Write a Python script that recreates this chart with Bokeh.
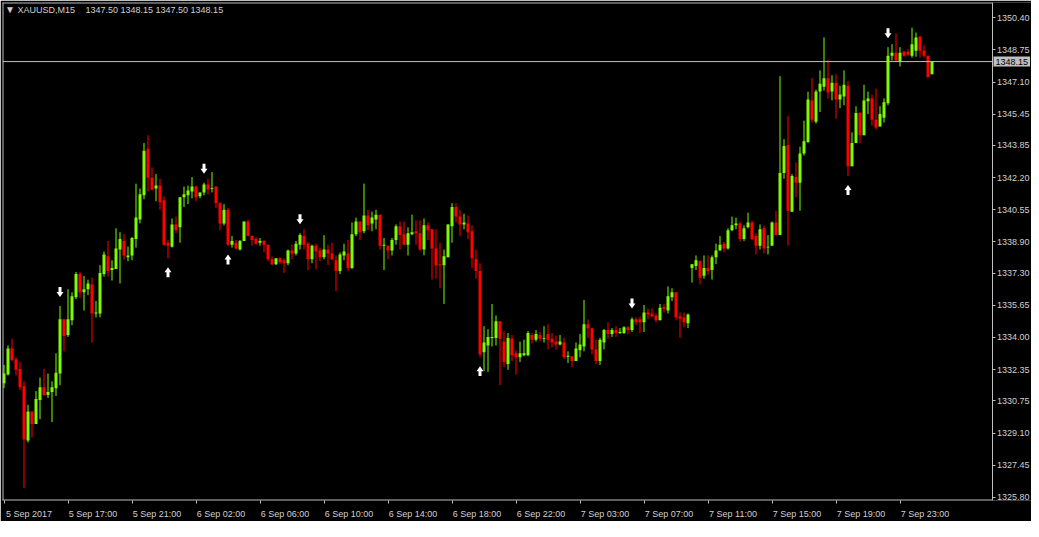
from bokeh.plotting import figure
from bokeh.models import Range1d, FixedTicker, PrintfTickFormatter, Span, Label, ColumnDataSource
from bokeh.embed import file_html
from bokeh.resources import INLINE

symbol = "XAUUSD,M15"

open_ = [
1331.65, 1332.10, 1333.44, 1332.89, 1332.39, 1331.50, 1328.72, 1330.21, 1329.56, 1330.80,
1331.45, 1331.05, 1331.20, 1331.40, 1332.15, 1334.93, 1334.13, 1334.88, 1336.07, 1337.26,
1336.32, 1336.47, 1336.72, 1335.23, 1335.23, 1337.26, 1338.16, 1337.46, 1337.51, 1338.51,
1338.95, 1338.11, 1338.21, 1339.05, 1340.05, 1341.29, 1343.68, 1342.19, 1341.64, 1341.79,
1341.04, 1338.86, 1338.66, 1339.80, 1339.65, 1341.19, 1341.29, 1341.49, 1341.74, 1341.24,
1341.44, 1341.84, 1341.61, 1341.74, 1340.89, 1339.85, 1340.55, 1338.76, 1338.86, 1338.51,
1338.95, 1339.95, 1339.20, 1339.05, 1338.86, 1338.95, 1338.76, 1338.01, 1337.76, 1338.06,
1337.96, 1337.81, 1338.46, 1338.31, 1338.76, 1339.20, 1338.81, 1338.01, 1338.71, 1338.46,
1338.11, 1338.51, 1338.31, 1337.96, 1337.41, 1338.21, 1338.31, 1337.56, 1339.30, 1339.95,
1339.45, 1340.25, 1339.85, 1340.05, 1340.30, 1338.71, 1338.71, 1338.46, 1339.00, 1339.70,
1339.30, 1338.76, 1339.30, 1339.45, 1339.35, 1338.51, 1339.75, 1339.55, 1338.56, 1337.76,
1337.71, 1338.11, 1339.70, 1340.69, 1340.20, 1339.80, 1339.85, 1339.45, 1338.01, 1337.41,
1333.24, 1333.59, 1333.98, 1333.98, 1334.83, 1333.79, 1332.64, 1333.93, 1333.19, 1332.99,
1333.09, 1333.09, 1334.13, 1333.89, 1334.13, 1333.93, 1334.18, 1333.93, 1333.79, 1333.64,
1333.74, 1333.01, 1333.04, 1332.79, 1333.34, 1333.54, 1334.68, 1334.48, 1333.39, 1332.79,
1333.74, 1334.38, 1334.18, 1334.38, 1334.23, 1334.23, 1334.53, 1334.38, 1334.93, 1334.93,
1334.78, 1335.28, 1335.23, 1335.13, 1334.88, 1335.57, 1335.38, 1336.07, 1336.32, 1335.08,
1335.03, 1334.73, 1337.56, 1337.66, 1337.91, 1337.16, 1337.56, 1337.46, 1338.11, 1338.46,
1338.81, 1338.56, 1339.50, 1339.75, 1339.85, 1339.05, 1339.65, 1339.90, 1339.20, 1338.71,
1339.60, 1338.61, 1338.71, 1339.90, 1339.25, 1342.43, 1343.87, 1340.45, 1342.23, 1341.94,
1343.43, 1344.02, 1346.16, 1345.07, 1346.61, 1346.86, 1347.30, 1346.61, 1347.06, 1346.21,
1346.36, 1346.91, 1342.78, 1343.97, 1345.51, 1344.37, 1346.11, 1346.26, 1345.17, 1344.82,
1345.27, 1346.01, 1348.45, 1348.60, 1348.15, 1348.65, 1348.65, 1348.45, 1348.70, 1349.44,
1348.70, 1348.45, 1347.50,
]

high = [
1332.59, 1333.59, 1333.93, 1332.99, 1332.74, 1331.75, 1330.55, 1330.21, 1331.25, 1331.95,
1332.39, 1332.15, 1331.75, 1333.19, 1335.62, 1334.93, 1336.47, 1336.32, 1337.36, 1337.36,
1337.16, 1336.97, 1337.07, 1335.87, 1337.71, 1338.41, 1338.95, 1337.96, 1339.60, 1339.40,
1339.30, 1338.66, 1339.15, 1341.89, 1341.64, 1343.97, 1344.37, 1342.73, 1342.38, 1342.14,
1341.24, 1339.00, 1340.10, 1340.20, 1341.19, 1341.74, 1341.79, 1342.23, 1341.79, 1341.44,
1341.94, 1342.14, 1342.48, 1341.74, 1340.94, 1340.84, 1340.64, 1339.20, 1339.00, 1339.00,
1339.95, 1340.05, 1339.25, 1339.15, 1339.10, 1339.00, 1338.76, 1338.16, 1338.06, 1338.11,
1338.06, 1338.51, 1338.76, 1338.95, 1339.35, 1339.55, 1338.91, 1338.76, 1338.81, 1338.61,
1339.25, 1338.76, 1338.86, 1338.21, 1338.36, 1338.81, 1339.00, 1339.90, 1340.15, 1339.95,
1341.89, 1340.55, 1340.45, 1340.55, 1340.30, 1339.10, 1338.71, 1339.10, 1339.80, 1339.95,
1339.95, 1339.65, 1340.30, 1340.00, 1340.00, 1340.10, 1339.90, 1339.55, 1339.55, 1338.86,
1338.51, 1339.80, 1340.89, 1340.89, 1340.55, 1340.35, 1340.25, 1339.75, 1338.51, 1337.81,
1334.58, 1334.43, 1335.72, 1335.13, 1334.83, 1334.33, 1334.23, 1334.13, 1333.34, 1333.79,
1333.89, 1334.33, 1334.23, 1334.38, 1334.28, 1334.58, 1334.68, 1334.23, 1334.08, 1334.13,
1333.98, 1333.29, 1333.04, 1333.74, 1334.18, 1335.92, 1334.93, 1334.48, 1333.89, 1333.98,
1334.43, 1334.78, 1334.48, 1334.58, 1334.48, 1334.58, 1334.58, 1335.03, 1335.03, 1335.08,
1335.67, 1335.48, 1335.48, 1335.23, 1335.72, 1335.72, 1336.62, 1336.52, 1336.32, 1335.28,
1335.28, 1335.23, 1337.76, 1338.21, 1337.96, 1338.21, 1338.21, 1338.21, 1338.81, 1339.20,
1338.91, 1339.60, 1340.20, 1340.15, 1339.95, 1339.75, 1340.40, 1340.00, 1339.35, 1339.80,
1339.75, 1339.25, 1339.95, 1340.50, 1347.40, 1344.17, 1345.37, 1342.38, 1342.98, 1343.78,
1345.12, 1346.61, 1347.30, 1346.71, 1347.70, 1349.39, 1348.25, 1347.45, 1347.50, 1346.91,
1347.70, 1347.16, 1344.52, 1345.86, 1345.56, 1346.96, 1346.61, 1346.46, 1346.76, 1345.86,
1346.26, 1348.89, 1349.04, 1349.59, 1348.89, 1348.70, 1348.80, 1349.89, 1349.64, 1349.44,
1348.99, 1348.45, 1348.15,
]

low = [
1331.40, 1332.05, 1332.79, 1332.05, 1331.30, 1326.28, 1328.62, 1328.87, 1329.56, 1329.81,
1331.00, 1330.90, 1329.66, 1331.00, 1331.55, 1333.29, 1334.03, 1334.63, 1335.97, 1336.02,
1335.38, 1336.17, 1333.74, 1335.03, 1335.03, 1337.12, 1337.12, 1336.92, 1337.51, 1336.77,
1338.01, 1337.91, 1337.96, 1338.61, 1339.85, 1341.09, 1341.49, 1341.54, 1340.99, 1340.55,
1338.71, 1338.06, 1338.61, 1339.35, 1338.86, 1340.69, 1340.84, 1341.14, 1340.99, 1341.14,
1341.29, 1341.34, 1341.44, 1340.64, 1339.50, 1339.75, 1338.71, 1338.61, 1338.51, 1338.46,
1338.95, 1339.20, 1338.71, 1338.76, 1338.71, 1338.36, 1337.91, 1337.71, 1337.71, 1337.76,
1337.31, 1337.71, 1338.01, 1338.21, 1338.51, 1338.51, 1337.46, 1337.81, 1337.51, 1337.91,
1338.01, 1337.71, 1337.96, 1336.37, 1337.26, 1337.96, 1337.41, 1337.51, 1339.20, 1339.00,
1339.35, 1339.50, 1339.45, 1339.55, 1338.51, 1337.46, 1338.01, 1338.21, 1338.76, 1338.51,
1338.76, 1338.21, 1339.25, 1338.76, 1338.46, 1338.21, 1339.00, 1336.97, 1337.02, 1336.52,
1335.72, 1338.11, 1338.86, 1339.90, 1339.20, 1339.55, 1339.05, 1337.56, 1337.02, 1332.99,
1332.29, 1332.24, 1333.54, 1333.59, 1331.55, 1332.49, 1332.34, 1332.79, 1332.10, 1332.74,
1333.04, 1333.04, 1333.69, 1333.79, 1333.79, 1333.74, 1333.39, 1333.49, 1333.39, 1333.59,
1332.89, 1332.69, 1332.49, 1332.79, 1332.99, 1333.29, 1333.98, 1333.14, 1332.64, 1332.59,
1333.39, 1333.93, 1334.03, 1334.03, 1334.18, 1334.18, 1334.18, 1334.28, 1334.63, 1334.23,
1334.28, 1334.93, 1335.08, 1334.78, 1334.88, 1335.28, 1335.23, 1335.87, 1334.88, 1333.98,
1334.53, 1334.48, 1336.82, 1337.46, 1336.72, 1337.02, 1337.21, 1336.97, 1337.76, 1338.46,
1338.36, 1338.51, 1339.45, 1339.55, 1338.91, 1338.95, 1339.60, 1339.00, 1338.26, 1338.51,
1338.31, 1338.26, 1338.71, 1339.25, 1339.25, 1342.14, 1338.71, 1340.45, 1341.19, 1340.50,
1343.33, 1343.97, 1345.02, 1344.97, 1345.56, 1346.66, 1346.26, 1346.16, 1345.22, 1345.76,
1345.91, 1342.28, 1342.78, 1343.97, 1343.97, 1344.37, 1345.46, 1344.87, 1344.67, 1344.82,
1345.02, 1345.91, 1348.20, 1348.15, 1347.90, 1348.40, 1348.45, 1348.35, 1348.40, 1348.35,
1348.35, 1347.35, 1347.50,
]

close = [
1332.15, 1333.44, 1332.84, 1332.34, 1331.45, 1328.77, 1330.21, 1329.56, 1330.85, 1331.45,
1331.05, 1331.20, 1331.45, 1332.19, 1334.93, 1334.08, 1334.93, 1336.12, 1337.26, 1336.32,
1336.47, 1336.77, 1335.23, 1335.28, 1337.31, 1338.26, 1337.41, 1337.56, 1338.56, 1339.05,
1338.21, 1338.21, 1339.10, 1340.15, 1341.34, 1343.58, 1342.19, 1341.59, 1341.79, 1340.94,
1338.76, 1338.71, 1339.80, 1339.50, 1341.19, 1341.34, 1341.54, 1341.74, 1341.19, 1341.44,
1341.84, 1341.59, 1341.66, 1340.89, 1339.85, 1340.55, 1338.76, 1338.95, 1338.56, 1338.95,
1339.95, 1339.20, 1339.00, 1338.81, 1338.95, 1338.76, 1338.01, 1337.76, 1338.06, 1337.86,
1337.81, 1338.46, 1338.31, 1338.81, 1339.25, 1338.76, 1338.01, 1338.71, 1338.41, 1338.11,
1338.51, 1338.31, 1338.01, 1337.41, 1338.26, 1338.41, 1337.56, 1339.30, 1339.95, 1339.40,
1340.25, 1339.75, 1340.15, 1340.30, 1338.71, 1338.76, 1338.46, 1339.00, 1339.70, 1339.25,
1338.76, 1339.35, 1339.40, 1339.35, 1338.51, 1339.75, 1339.50, 1338.56, 1337.71, 1337.71,
1338.16, 1339.80, 1340.69, 1340.20, 1339.80, 1339.90, 1339.40, 1338.06, 1337.41, 1333.14,
1333.74, 1334.03, 1334.03, 1334.83, 1333.93, 1332.74, 1333.98, 1333.09, 1332.99, 1333.19,
1333.19, 1334.23, 1333.89, 1334.18, 1333.93, 1333.98, 1333.89, 1333.74, 1333.64, 1333.79,
1332.99, 1333.06, 1332.79, 1333.44, 1333.64, 1334.68, 1334.48, 1333.39, 1332.79, 1333.89,
1334.38, 1334.18, 1334.38, 1334.23, 1334.28, 1334.53, 1334.38, 1334.93, 1334.78, 1334.78,
1335.28, 1335.18, 1335.08, 1334.88, 1335.52, 1335.48, 1336.12, 1336.32, 1335.03, 1334.98,
1334.78, 1335.18, 1337.76, 1337.96, 1337.07, 1337.56, 1337.41, 1338.11, 1338.46, 1338.76,
1338.56, 1339.50, 1339.75, 1339.85, 1339.05, 1339.60, 1339.90, 1339.05, 1338.71, 1339.55,
1338.56, 1338.66, 1339.90, 1339.25, 1342.43, 1343.82, 1340.50, 1342.28, 1341.94, 1343.43,
1344.07, 1346.21, 1345.17, 1346.61, 1347.01, 1347.30, 1346.56, 1347.06, 1346.21, 1346.46,
1346.96, 1342.78, 1343.97, 1345.51, 1344.37, 1346.16, 1346.26, 1345.17, 1344.77, 1345.46,
1346.06, 1348.45, 1348.60, 1348.20, 1348.60, 1348.45, 1348.50, 1349.04, 1349.39, 1348.70,
1348.45, 1347.35, 1348.15,
]

time_label_bars = [0, 16, 32, 48, 64, 80, 96, 112, 128, 144, 160, 176, 192, 208, 224]
time_labels = ["5 Sep 2017", "5 Sep 17:00", "5 Sep 21:00", "6 Sep 02:00", "6 Sep 06:00",
               "6 Sep 10:00", "6 Sep 14:00", "6 Sep 18:00", "6 Sep 22:00", "7 Sep 03:00",
               "7 Sep 07:00", "7 Sep 11:00", "7 Sep 15:00", "7 Sep 19:00", "7 Sep 23:00"]
price_ticks = [1325.80, 1327.45, 1329.10, 1330.75, 1332.35, 1334.00, 1335.65, 1337.30,
               1338.90, 1340.55, 1342.20, 1343.85, 1345.45, 1347.10, 1348.75, 1350.40]
up_arrow_bars = [41, 56, 119, 211]
down_arrow_bars = [14, 50, 74, 157, 221]

# ---- styling / layout ----
BULL = "#7CFC00"
BEAR = "#FF0000"
GRAY = "#C0C0C0"
TXT = "#D0D0D0"
FONT = "Liberation Sans"
FS = "9px"

W, H = 1031, 521
LEFT, TOP, BOTTOM = 2, 2, 19
FW, FH = W - LEFT, H - TOP - BOTTOM
BAR_PX = 4
AXIS_PX = 989.5                # price-scale line, pixels from frame left
x_start = -0.375
x_end = x_start + FW / BAR_PX
axis_x = x_start + AXIS_PX / BAR_PX
y_start, y_end = 1325.64, 1351.18
ppd = FH / (y_end - y_start)  # pixels per dollar
ppb = BAR_PX                   # pixels per bar

n = len(close)
idx = list(range(n))
colors = [BULL if c >= o else BEAR for o, c in zip(open_, close)]
src = ColumnDataSource(dict(
    x=idx, top=[max(o, c) for o, c in zip(open_, close)],
    bottom=[min(o, c) for o, c in zip(open_, close)],
    high=high, low=low, color=colors))

p = figure(width=W, height=H, output_backend="svg", toolbar_location=None,
           y_axis_location="right", x_range=Range1d(x_start, x_end),
           y_range=Range1d(y_start, y_end),
           min_border_left=LEFT, min_border_top=TOP, min_border_right=0,
           min_border_bottom=BOTTOM, background_fill_color="black",
           border_fill_color="black", outline_line_color=None)
p.grid.visible = False

# chart frame (left, top, bottom) up to the price scale
p.add_layout(Span(location=x_start + 0.5 / ppb, dimension="height", line_color=GRAY, line_width=1))
p.segment(x0=[x_start, x_start], y0=[y_end - 0.5 / ppd, y_start + 0.5 / ppd],
          x1=[axis_x, axis_x], y1=[y_end - 0.5 / ppd, y_start + 0.5 / ppd],
          line_color=GRAY, line_width=1)

p.segment(x0="x", y0="low", x1="x", y1="high", color="color", line_width=1, source=src)
p.vbar(x="x", width=3 / ppb, top="top", bottom="bottom", fill_color="color",
       line_color=None, source=src)

# current price line
p.segment(x0=[x_start], y0=[close[-1]], x1=[axis_x], y1=[close[-1]], line_color=GRAY, line_width=1)

# arrows (shape defined in pixels, converted to data units)
def arrow(cx, cy, up):
    s = 1 if up else -1
    pts = [(-3.5, 0), (0, 5), (3.5, 0), (1.5, 0), (1.5, -5), (-1.5, -5), (-1.5, 0)]
    xs = [cx + dx / ppb for dx, dy in pts]
    ys = [cy + s * dy / ppd for dx, dy in pts]
    return xs, ys

axs, ays = [], []
for b in up_arrow_bars:
    xs, ys = arrow(b, low[b] - 14 / ppd, True)
    axs.append(xs); ays.append(ys)
for b in down_arrow_bars:
    xs, ys = arrow(b, high[b] + 14 / ppd, False)
    axs.append(xs); ays.append(ys)
p.patches(axs, ays, fill_color="white", line_color=None)

# price scale (fixed inside the frame so the price box can sit next to it)
p.yaxis.fixed_location = axis_x
p.yaxis.ticker = FixedTicker(ticks=price_ticks)
p.yaxis.formatter = PrintfTickFormatter(format="%.2f")
p.yaxis.axis_line_color = GRAY
p.yaxis.major_tick_line_color = GRAY
p.yaxis.major_tick_in = 0
p.yaxis.major_tick_out = 3
p.yaxis.minor_tick_line_color = None
p.yaxis.major_label_standoff = 2
p.yaxis.major_label_text_color = TXT
p.yaxis.major_label_text_font = FONT
p.yaxis.major_label_text_font_size = FS

LBL_SHIFT = 6.25
p.xaxis.ticker = FixedTicker(ticks=[b + LBL_SHIFT for b in time_label_bars],
                             minor_ticks=time_label_bars)
p.xaxis.major_label_overrides = {b + LBL_SHIFT: t for b, t in zip(time_label_bars, time_labels)}
p.xaxis.axis_line_color = None
p.xaxis.major_tick_line_color = None
p.xaxis.major_tick_out = 0
p.xaxis.major_tick_in = 0
p.xaxis.minor_tick_line_color = GRAY
p.xaxis.minor_tick_in = 0
p.xaxis.minor_tick_out = 3
p.xaxis.major_label_standoff = 5
p.xaxis.major_label_text_color = TXT
p.xaxis.major_label_text_font = FONT
p.xaxis.major_label_text_font_size = FS

# price box on the scale
p.add_layout(Label(x=axis_x + 1.5 / ppb, y=close[-1], x_units="data", y_units="data",
                   text=f"{close[-1]:.2f}", text_color="black", text_font=FONT,
                   text_font_size=FS, text_baseline="middle", text_align="left",
                   background_fill_color=GRAY, padding=2))

# header
p.add_layout(Label(x=7.5, y=FH - 9, x_units="screen", y_units="screen", text="\u25BC",
                   text_color=TXT, text_font=FONT, text_font_size="10px",
                   text_baseline="middle", text_align="center"))
p.add_layout(Label(x=15, y=FH - 9, x_units="screen", y_units="screen", text=symbol,
                   text_color=TXT, text_font=FONT, text_font_size=FS,
                   text_baseline="middle", text_align="left"))
p.add_layout(Label(x=83, y=FH - 9, x_units="screen", y_units="screen",
                   text=f"{open_[-1]:.2f} {high[-1]:.2f} {low[-1]:.2f} {close[-1]:.2f}",
                   text_color=TXT, text_font=FONT, text_font_size=FS,
                   text_baseline="middle", text_align="left"))

open("out.html", "w").write(file_html(p, INLINE))
